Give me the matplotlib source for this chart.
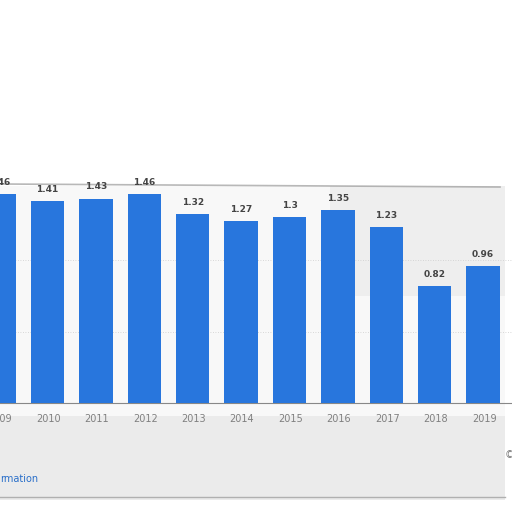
import matplotlib
matplotlib.use("Agg")
import matplotlib.pyplot as plt
from matplotlib.patches import Rectangle

years = ["2009", "2010", "2011", "2012", "2013", "2014", "2015", "2016", "2017", "2018", "2019"]
values = [1.46, 1.41, 1.43, 1.46, 1.32, 1.27, 1.3, 1.35, 1.23, 0.82, 0.96]
value_labels = ["1.46", "1.41", "1.43", "1.46", "1.32", "1.27", "1.3", "1.35", "1.23", "0.82", "0.96"]

W, H = 512, 512
fig = plt.figure(figsize=(W / 100, H / 100), dpi=100)
fig.patch.set_facecolor("white")

# background shading (gray frame region of the screenshot)
bg = fig.add_axes([0, 0, 1, 1])
bg.set_xlim(0, W)
bg.set_ylim(H, 0)
bg.axis("off")
bg.add_patch(Rectangle((0, 186), 505, 230, facecolor="#f8f8f8", edgecolor="none"))
bg.add_patch(Rectangle((0, 416), 505, 84, facecolor="#ebebeb", edgecolor="none"))
bg.add_patch(Rectangle((330, 186), 175, 110, facecolor="#e2e2e2", edgecolor="none", alpha=0.45))
bg.plot([0, 500], [184, 187], color="#9a9a9a", lw=1.2, alpha=0.7)
bg.plot([0, 505], [497, 497], color="#b0b0b0", lw=1.0)
bg.text(0, 479, "rmation", color="#2a6fc9", fontsize=7, va="center", ha="left")
bg.text(505, 455, "©", color="#777777", fontsize=7, va="center", ha="left")

# chart axes: baseline at y=403 px, 143 px per unit
base_px, top_px = 403, 160
ppu = 143.0
x0_px, step_px = -2.0, 48.6
left_val = (0 - x0_px) / step_px
right_val = (W - x0_px) / step_px
ax = fig.add_axes([0, (H - base_px) / H, 1, (base_px - top_px) / H])
ax.patch.set_alpha(0)
ax.set_xlim(left_val, right_val)
ax.set_ylim(0, (base_px - top_px) / ppu)

x = list(range(len(years)))
ax.bar([xi - 0.02 for xi in x], values, width=0.69, color="#2876dd", zorder=3)
for xi, v, lab in zip(x, values, value_labels):
    ax.text(xi - 0.02, v + 0.05, lab, ha="center", va="bottom", fontsize=6.5,
            fontweight="bold", color="#444444", zorder=4, clip_on=False)

for g in [0.5, 1.0]:
    ax.axhline(g, color="#cccccc", lw=0.6, ls=(0, (1, 2)), zorder=1)

for s in ["top", "right", "left"]:
    ax.spines[s].set_visible(False)
ax.spines["bottom"].set_color("#888888")
ax.spines["bottom"].set_linewidth(0.8)
ax.set_yticks([])
ax.set_xticks(x)
ax.set_xticklabels(years, fontsize=7, color="#808080")
ax.tick_params(axis="x", length=0, pad=8)

fig.savefig("out.png", dpi=100)
